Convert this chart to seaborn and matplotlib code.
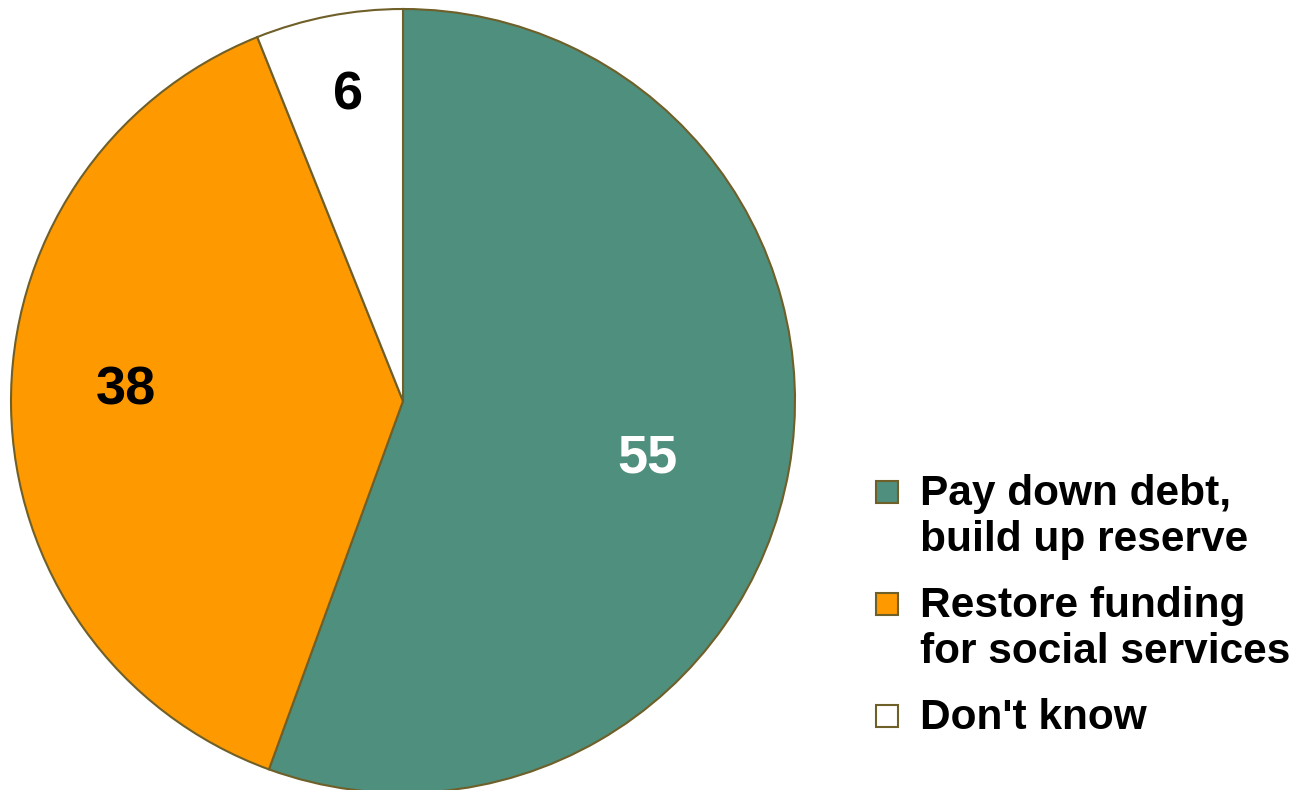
import numpy as np
import matplotlib
matplotlib.use("Agg")
import matplotlib.pyplot as plt
import matplotlib.patches as mpatches
import seaborn as sns

# Dados
categorias = ["Pay down debt,\nbuild up reserve", "Restore funding\nfor social services", "Don't know"]
valores = [55, 38, 6]
cores = ["#4F8F7D", "#FF9900", "#FFFFFF"]
cores_rotulo = ["white", "black", "black"]
dist_rotulo = [0.642, 0.707, 0.791]
desvio_ang = [-3.3, -3.0, -0.7]

sns.set_style("white")
plt.rcParams["font.family"] = ["Liberation Sans", "DejaVu Sans"]
plt.rcParams["text.color"] = "black"

W, H = 1309, 790
fig = plt.figure(figsize=(W / 100, H / 100), dpi=100)

# Pizza: centro (403, 401) px, raio 392 px
cx, cy, r = 403, 401, 392
lim = 1.01
ax = fig.add_axes([(cx - r * lim) / W, (H - cy - r * lim) / H, 2 * r * lim / W, 2 * r * lim / H])
wedges, _ = ax.pie(valores, colors=cores, startangle=90, counterclock=False,
                   wedgeprops=dict(edgecolor="#6F5F28", linewidth=1.5))
ax.set_xlim(-lim, lim)
ax.set_ylim(-lim, lim)
ax.set_aspect("equal")
ax.axis("off")

# Rótulos de valores
for w, v, c, d, da in zip(wedges, valores, cores_rotulo, dist_rotulo, desvio_ang):
    ang = np.deg2rad((w.theta1 + w.theta2) / 2 + da)
    ax.text(d * np.cos(ang), d * np.sin(ang), str(v), ha="center", va="center",
            fontsize=39, fontweight="bold", color=c)

# Legenda manual: marcador alinhado com a primeira linha de cada item
y_base = 505          # linha de base do primeiro texto (px a partir do topo)
passo_linha = 46      # entre linhas do mesmo item
passo_item = 66       # entre itens
for cat, cor in zip(categorias, cores):
    fig.add_artist(mpatches.Rectangle((876 / W, 1 - (y_base - 2) / H), 22 / W, 22 / H,
                                      transform=fig.transFigure, facecolor=cor,
                                      edgecolor="#6F5F28", linewidth=1.5))
    linhas = cat.split("\n")
    for k, linha in enumerate(linhas):
        fig.text(920 / W, 1 - y_base / H, linha, ha="left", va="baseline",
                 fontsize=30.5, fontweight="bold", color="black")
        if k < len(linhas) - 1:
            y_base += passo_linha
    y_base += passo_item

fig.savefig("out.png", dpi=100)
